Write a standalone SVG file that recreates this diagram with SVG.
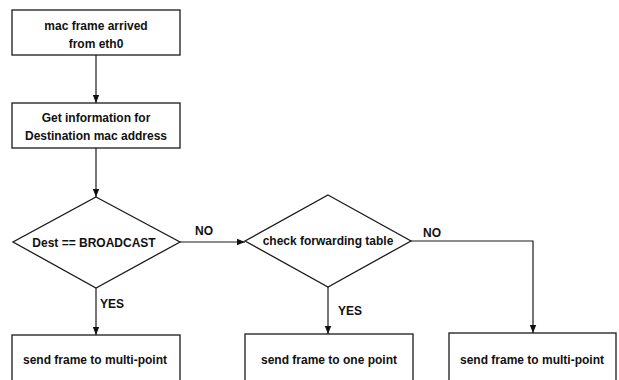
<svg xmlns="http://www.w3.org/2000/svg" width="619" height="380" viewBox="0 0 619 380">
  <defs>
    <marker id="arrow" viewBox="0 0 8 8" refX="8" refY="4" markerWidth="8" markerHeight="8" markerUnits="userSpaceOnUse" orient="auto">
      <path d="M0,0.8 L8,4 L0,7.2 Z" fill="#111"/>
    </marker>
    <style>
      .box { fill: #fff; stroke: #1a1a1a; stroke-width: 1.3; }
      .dec { fill: #fff; stroke: #1a1a1a; stroke-width: 1.3; stroke-linejoin: miter; }
      .lbl { font-family: "Liberation Sans", Arial, sans-serif; font-size: 12px; font-weight: bold; fill: #111; text-anchor: middle; }
      .tag { font-family: "Liberation Sans", Arial, sans-serif; font-size: 12px; font-weight: bold; fill: #111; }
      .wire { fill: none; stroke: #1a1a1a; stroke-width: 1.2; }
    </style>
  </defs>
  <rect width="619" height="380" fill="#fff"/>

  <!-- connectors -->
  <g id="connectors">
    <path class="wire" d="M96,55 V103" marker-end="url(#arrow)"/>
    <path class="wire" d="M96,148 V197" marker-end="url(#arrow)"/>
    <path class="wire" d="M180,242 H245" marker-end="url(#arrow)"/>
    <text class="tag" x="195" y="235">NO</text>
    <path class="wire" d="M96,288 V335" marker-end="url(#arrow)"/>
    <text class="tag" x="100" y="308">YES</text>
    <path class="wire" d="M328,287 V334" marker-end="url(#arrow)"/>
    <text class="tag" x="338" y="315">YES</text>
    <path class="wire" d="M411,241 H533 V333" marker-end="url(#arrow)"/>
    <text class="tag" x="423" y="237">NO</text>
  </g>

  <g id="frame-arrived">
    <rect class="box" x="12" y="10" width="168" height="45"/>
    <text class="lbl" x="96" y="30">mac frame arrived</text>
    <text class="lbl" x="96" y="48">from eth0</text>
  </g>

  <g id="get-dest-info">
    <rect class="box" x="12" y="103" width="168" height="45"/>
    <text class="lbl" x="96" y="122">Get information for</text>
    <text class="lbl" x="96" y="140">Destination mac address</text>
  </g>

  <g id="is-broadcast">
    <polygon class="dec" points="96,197 180,242 96,288 13,242"/>
    <text class="lbl" x="94" y="247">Dest == BROADCAST</text>
  </g>

  <g id="check-table">
    <polygon class="dec" points="328,195 411,241 328,287 245,241"/>
    <text class="lbl" x="328" y="245">check forwarding table</text>
  </g>

  <g id="send-multi-1">
    <rect class="box" x="12" y="335" width="168" height="60"/>
    <text class="lbl" x="95" y="364">send frame to multi-point</text>
  </g>

  <g id="send-one">
    <rect class="box" x="245" y="334" width="168" height="60"/>
    <text class="lbl" x="329" y="364">send frame to one point</text>
  </g>

  <g id="send-multi-2">
    <rect class="box" x="449" y="333" width="167" height="60"/>
    <text class="lbl" x="532" y="364">send frame to multi-point</text>
  </g>
</svg>
